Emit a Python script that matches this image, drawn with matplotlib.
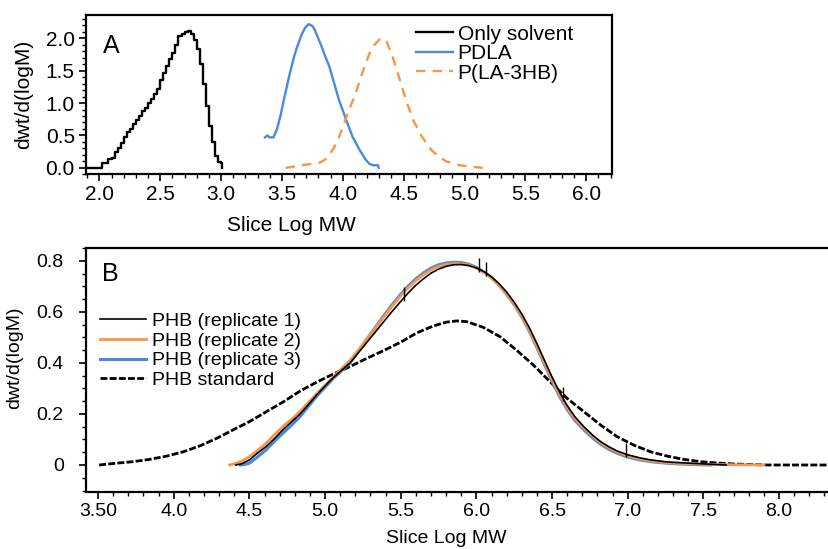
import numpy as np
import matplotlib
matplotlib.use('Agg')
import matplotlib.pyplot as plt
from matplotlib.ticker import MultipleLocator, FixedLocator, FixedFormatter

plt.rcParams['font.family'] = ['Liberation Sans', 'DejaVu Sans']

# ---- panel A data ----
solvent_x = [1.89, 1.925, 1.95, 1.975, 2.00, 2.025, 2.05, 2.075, 2.10, 2.125, 2.15, 2.175,
             2.20, 2.225, 2.25, 2.275, 2.30, 2.325, 2.35, 2.375, 2.40, 2.425, 2.45, 2.475,
             2.50, 2.525, 2.55, 2.575, 2.60, 2.625, 2.65, 2.675, 2.70, 2.725, 2.75, 2.775,
             2.80, 2.825, 2.85, 2.875, 2.90, 2.925, 2.95, 2.975, 3.00, 3.01]
solvent_y = [0, 0, 0, 0, 0, 0.07, 0.08, 0.13, 0.15, 0.25, 0.30, 0.38,
             0.48, 0.55, 0.60, 0.68, 0.74, 0.80, 0.87, 0.93, 1.00, 1.06, 1.14, 1.22,
             1.35, 1.46, 1.57, 1.68, 1.78, 1.90, 2.03, 2.06, 2.10, 2.12, 2.06, 1.98,
             1.84, 1.60, 1.30, 0.95, 0.65, 0.40, 0.18, 0.09, 0.07, 0.0]

pdla_x = [3.36, 3.38, 3.40, 3.43, 3.46, 3.49, 3.51, 3.56, 3.60, 3.62, 3.66, 3.69, 3.72,
          3.75, 3.77, 3.82, 3.85, 3.89, 3.93, 3.97, 4.03, 4.08, 4.14, 4.19, 4.22, 4.25,
          4.29, 4.295]
pdla_y = [0.47, 0.50, 0.47, 0.47, 0.60, 0.82, 1.00, 1.42, 1.72, 1.84, 2.05, 2.16, 2.22,
          2.19, 2.13, 1.90, 1.75, 1.56, 1.30, 1.04, 0.73, 0.48, 0.27, 0.12, 0.06, 0.04,
          0.04, 0.0]

pla3hb_x = [3.53, 3.60, 3.70, 3.81, 3.85, 3.89, 3.93, 3.97, 4.01, 4.05, 4.10, 4.14, 4.18,
            4.22, 4.26, 4.30, 4.33, 4.36, 4.41, 4.47, 4.52, 4.58, 4.65, 4.73, 4.79, 4.85,
            4.96, 5.07, 5.15]
pla3hb_y = [0.0, 0.02, 0.05, 0.08, 0.12, 0.20, 0.32, 0.48, 0.68, 0.89, 1.12, 1.35, 1.57,
            1.77, 1.90, 1.98, 2.00, 1.95, 1.71, 1.35, 1.04, 0.73, 0.48, 0.27, 0.17, 0.10,
            0.04, 0.015, 0.0]

# ---- panel B data ----
rep2_x = [4.37, 4.40, 4.45, 4.50, 4.55, 4.61, 4.66, 4.72, 4.78, 4.835, 4.89, 4.945, 5.00,
          5.055, 5.11, 5.165, 5.22, 5.275, 5.33, 5.385, 5.44, 5.495, 5.55, 5.60, 5.65, 5.70,
          5.75, 5.80, 5.85, 5.90, 5.95, 6.00, 6.05, 6.10, 6.15, 6.20, 6.25, 6.30, 6.35, 6.40,
          6.45, 6.50, 6.55, 6.60, 6.65, 6.71, 6.77, 6.82, 6.88, 6.93, 7.00, 7.08, 7.15, 7.26,
          7.38, 7.48, 7.70, 7.90]
rep2_y = [0.0, 0.005, 0.015, 0.033, 0.055, 0.085, 0.115, 0.150, 0.180, 0.210, 0.245, 0.280,
          0.313, 0.346, 0.378, 0.410, 0.450, 0.492, 0.535, 0.578, 0.620, 0.660, 0.695, 0.723,
          0.746, 0.765, 0.778, 0.786, 0.790, 0.789, 0.783, 0.772, 0.755, 0.733, 0.705, 0.670,
          0.630, 0.583, 0.528, 0.465, 0.400, 0.335, 0.275, 0.225, 0.182, 0.145, 0.112, 0.088,
          0.066, 0.051, 0.036, 0.024, 0.016, 0.009, 0.005, 0.003, 0.001, 0.0]

rep3_x = [4.44, 4.47, 4.50, 4.55, 4.61, 4.66, 4.72, 4.78, 4.835, 4.89, 4.945, 5.00, 5.055,
          5.11, 5.165, 5.22, 5.275, 5.33, 5.385, 5.44, 5.495, 5.55, 5.60, 5.65, 5.70, 5.75,
          5.80, 5.85, 5.90, 5.95, 6.00, 6.05, 6.10, 6.15, 6.20, 6.25, 6.30, 6.35, 6.40, 6.45,
          6.50, 6.55, 6.60, 6.65, 6.71, 6.77, 6.82, 6.88, 6.93, 7.00, 7.08, 7.15, 7.26, 7.38,
          7.48, 7.55]
rep3_y = [0.0, 0.002, 0.007, 0.030, 0.059, 0.090, 0.124, 0.157, 0.190, 0.230, 0.270, 0.305,
          0.340, 0.370, 0.400, 0.447, 0.493, 0.538, 0.583, 0.626, 0.666, 0.702, 0.730, 0.753,
          0.772, 0.785, 0.792, 0.795, 0.794, 0.787, 0.775, 0.757, 0.734, 0.705, 0.669, 0.628,
          0.580, 0.524, 0.460, 0.394, 0.328, 0.268, 0.218, 0.175, 0.138, 0.105, 0.082, 0.060,
          0.046, 0.031, 0.020, 0.013, 0.007, 0.003, 0.001, 0.0]

rep1_x = [4.41, 4.45, 4.50, 4.55, 4.61, 4.66, 4.72, 4.78, 4.835, 4.89, 4.945, 5.00, 5.055,
          5.11, 5.165, 5.22, 5.275, 5.33, 5.385, 5.44, 5.495, 5.55, 5.60, 5.65, 5.70, 5.75,
          5.80, 5.85, 5.90, 5.95, 6.00, 6.05, 6.10, 6.15, 6.20, 6.25, 6.30, 6.35, 6.40, 6.45,
          6.50, 6.55, 6.60, 6.65, 6.71, 6.77, 6.82, 6.88, 6.93, 7.00, 7.08, 7.15, 7.26, 7.38,
          7.48, 7.65]
rep1_y = [0.0, 0.005, 0.020, 0.045, 0.072, 0.100, 0.137, 0.170, 0.200, 0.237, 0.275, 0.310,
          0.343, 0.372, 0.400, 0.440, 0.480, 0.520, 0.560, 0.600, 0.638, 0.675, 0.705, 0.730,
          0.752, 0.768, 0.779, 0.785, 0.786, 0.782, 0.773, 0.758, 0.738, 0.711, 0.678, 0.638,
          0.592, 0.538, 0.476, 0.410, 0.345, 0.285, 0.233, 0.190, 0.150, 0.116, 0.092, 0.070,
          0.055, 0.040, 0.028, 0.020, 0.012, 0.008, 0.005, 0.0]
rep1_marks = [5.52, 6.02, 6.063, 6.574, 6.99]

std_x = [3.507, 3.62, 3.73, 3.84, 3.955, 4.064, 4.174, 4.285, 4.39, 4.50, 4.615, 4.725,
         4.835, 4.945, 5.055, 5.165, 5.275, 5.385, 5.495, 5.606, 5.715, 5.80, 5.87, 5.936,
         6.045, 6.156, 6.266, 6.376, 6.486, 6.60, 6.71, 6.82, 6.93, 7.04, 7.15, 7.26, 7.37,
         7.48, 7.59, 7.70, 7.92, 8.35]
std_y = [0.0, 0.007, 0.013, 0.022, 0.035, 0.052, 0.075, 0.105, 0.137, 0.170, 0.210, 0.248,
         0.290, 0.325, 0.357, 0.386, 0.418, 0.448, 0.480, 0.518, 0.545, 0.560, 0.565, 0.562,
         0.540, 0.503, 0.450, 0.392, 0.327, 0.261, 0.209, 0.157, 0.111, 0.078, 0.052, 0.035,
         0.022, 0.013, 0.008, 0.004, 0.0, 0.0]

xticksA = [2.0, 2.5, 3.0, 3.5, 4.0, 4.5, 5.0, 5.5, 6.0]
xlabelsA = ['2.0', '2.5', '3.0', '3.5', '4.0', '4.5', '5.0', '5.5', '6.0']
yticksA = [0.0, 0.5, 1.0, 1.5, 2.0]
ylabelsA = ['0.0', '0.5', '1.0', '1.5', '2.0']
xticksB = [3.5, 4.0, 4.5, 5.0, 5.5, 6.0, 6.5, 7.0, 7.5, 8.0]
xlabelsB = ['3.50', '4.0', '4.5', '5.0', '5.5', '6.0', '6.5', '7.0', '7.5', '8.0']
yticksB = [0.0, 0.2, 0.4, 0.6, 0.8]
ylabelsB = ['0', '0.2', '0.4', '0.6', '0.8']

blue = '#4a8ad8'
orange = '#f5964a'
fsA = 15
fsB = 14

fig = plt.figure(figsize=(8.29, 5.49), dpi=100)
axA = fig.add_axes([0.1037, 0.6825, 0.6343, 0.2902])
axB = fig.add_axes([0.1037, 0.1033, 0.8963, 0.4455])


def style(ax, fs):
    for s in ax.spines.values():
        s.set_linewidth(1.6)
    ax.tick_params(which='major', direction='out', length=5, width=1.2, labelsize=fs, pad=3)
    ax.tick_params(which='minor', direction='out', length=3, width=1.0)


# panel A
axA.plot(solvent_x, solvent_y, color='black', lw=1.7, drawstyle='steps-post', label='Only solvent')
axA.plot(pdla_x, pdla_y, color=blue, lw=1.7, label='PDLA')
axA.plot(pla3hb_x, pla3hb_y, color=orange, lw=1.7, ls=(0, (4, 3)), label='P(LA-3HB)')
axA.set_xlim(1.89, 6.21)
axA.set_ylim(-0.1, 2.36)
axA.xaxis.set_major_locator(FixedLocator(xticksA))
axA.xaxis.set_major_formatter(FixedFormatter(xlabelsA))
axA.yaxis.set_major_locator(FixedLocator(yticksA))
axA.yaxis.set_major_formatter(FixedFormatter(ylabelsA))
axA.xaxis.set_minor_locator(MultipleLocator(0.1))
axA.yaxis.set_minor_locator(MultipleLocator(0.1))
style(axA, fsA)
axA.set_xlabel('Slice Log MW', fontsize=fsA)
axA.xaxis.set_label_coords(0.39, -0.26)
axA.set_ylabel('dwt/d(logM)', fontsize=fsA)
axA.yaxis.set_label_coords(-0.1, 0.5)
axA.text(0.033, 0.76, 'A', transform=axA.transAxes, fontsize=18)
axA.legend(loc='upper left', bbox_to_anchor=(0.6, 1.03), frameon=False, fontsize=fsA,
           handlelength=1.75, handletextpad=0.25, labelspacing=0.02, borderpad=0.2)

# panel B
axB.plot(std_x, std_y, color='black', lw=2.0, ls=(0, (2.5, 0.8)), label='PHB standard', zorder=2)
axB.plot(rep3_x, rep3_y, color=blue, lw=2.2, label='PHB (replicate 3)', zorder=3)
axB.plot(rep2_x, rep2_y, color=orange, lw=2.0, label='PHB (replicate 2)', zorder=4)
axB.plot(rep1_x, rep1_y, color='black', lw=1.2, label='PHB (replicate 1)', zorder=5)
mark_y = np.interp(rep1_marks, rep1_x, rep1_y)
axB.vlines(rep1_marks, mark_y - 0.01, mark_y + 0.045, color='black', lw=1.0, zorder=6)
axB.set_xlim(3.42, 8.33)
axB.set_ylim(-0.107, 0.852)
axB.xaxis.set_major_locator(FixedLocator(xticksB))
axB.xaxis.set_major_formatter(FixedFormatter(xlabelsB))
axB.yaxis.set_major_locator(FixedLocator(yticksB))
axB.yaxis.set_major_formatter(FixedFormatter(ylabelsB))
axB.xaxis.set_minor_locator(MultipleLocator(0.1))
axB.yaxis.set_minor_locator(MultipleLocator(0.05))
style(axB, fsB)
axB.tick_params(axis='y', which='major', pad=11)
axB.spines['right'].set_visible(False)
axB.set_xlabel('Slice Log MW', fontsize=fsB)
axB.xaxis.set_label_coords(0.485, -0.155)
axB.set_ylabel('dwt/d(logM)', fontsize=fsB)
axB.yaxis.set_label_coords(-0.085, 0.55)
axB.text(0.022, 0.865, 'B', transform=axB.transAxes, fontsize=18)
handles, labels = axB.get_legend_handles_labels()
order = [3, 2, 1, 0]
axB.legend([handles[i] for i in order], [labels[i] for i in order], loc='upper left',
           bbox_to_anchor=(0.0, 0.79), frameon=False, fontsize=fsB,
           handlelength=2.4, handletextpad=0.3, labelspacing=0.1, borderpad=0.2)

fig.savefig('out.png', dpi=100)
